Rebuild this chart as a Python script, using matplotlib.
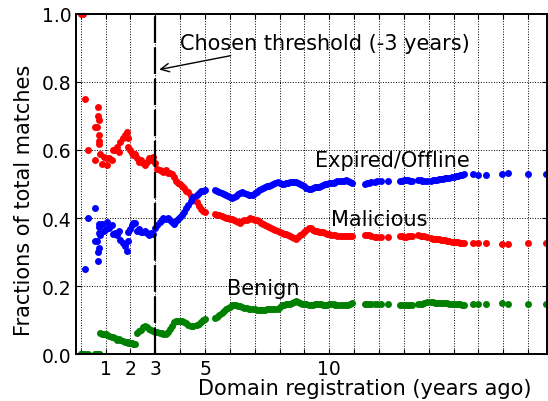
import matplotlib
matplotlib.use('Agg')
import matplotlib.pyplot as plt

# domain age in years, and fraction of matches per class
years = [0.00, 0.08, 0.17, 0.29, 0.56, 0.57, 0.66, 0.71, 0.71, 0.72, 0.73, 0.73, 0.74, 0.77, 0.84, 0.93,
         1.00, 1.07, 1.15, 1.24, 1.31, 1.38, 1.47, 1.54, 1.60, 1.69, 1.78, 1.85, 1.89, 1.91, 1.98, 2.05, 2.11, 2.17,
         2.25, 2.33, 2.41, 2.49, 2.58, 2.66, 2.75, 2.83, 2.92,
         3.00, 3.08, 3.17, 3.25, 3.33, 3.42, 3.50, 3.58, 3.67, 3.75, 3.83, 3.92, 4.00, 4.08, 4.17, 4.25, 4.33, 4.42, 4.50,
         4.67, 4.75, 4.83, 4.92, 5.00,
         5.42, 5.50, 5.58, 5.67, 5.75, 5.83, 5.92, 6.00, 6.08, 6.17, 6.25, 6.33, 6.42, 6.50, 6.58, 6.67, 6.75, 6.83, 6.92,
         7.00, 7.08, 7.17, 7.25, 7.33, 7.42, 7.50, 7.58, 7.67, 7.75, 7.83, 7.92, 8.00, 8.08, 8.17, 8.25, 8.33, 8.42,
         8.50, 8.58, 8.67, 8.75, 8.83, 8.92, 9.00, 9.08, 9.17, 9.25, 9.33, 9.42, 9.50, 9.58, 9.67, 9.75, 9.83, 9.92,
         10.00, 10.08, 10.17, 10.25, 10.33, 10.42, 10.50, 10.58, 10.67, 10.75, 10.83, 10.92,
         11.42, 11.50, 11.58, 11.67, 11.83, 11.92, 12.08, 12.38,
         12.83, 12.92, 13.00, 13.08, 13.17, 13.25, 13.33, 13.58, 13.67, 13.75, 13.83, 13.92,
         14.08, 14.17, 14.25, 14.33, 14.42, 14.50, 14.58, 14.67, 14.75, 14.83, 14.92, 15.00, 15.08, 15.17, 15.25,
         15.33, 15.42, 15.79, 16.00, 16.29, 16.94, 17.20, 17.98, 18.72]

malicious = [1.000, 1.000, 0.751, 0.600, 0.668, 0.571, 0.668, 0.727, 0.700, 0.689, 0.645, 0.626, 0.619, 0.589, 0.560, 0.580,
             0.575, 0.557, 0.577, 0.570, 0.599, 0.599, 0.609, 0.594, 0.624, 0.634, 0.645, 0.653, 0.634, 0.609, 0.599, 0.590, 0.584, 0.587,
             0.575, 0.565, 0.570, 0.562, 0.555, 0.566, 0.577, 0.572, 0.580,
             0.562, 0.545, 0.540, 0.538, 0.535, 0.540, 0.531, 0.531, 0.528, 0.520, 0.510, 0.502, 0.500, 0.495, 0.488, 0.480, 0.476, 0.466, 0.457,
             0.447, 0.435, 0.427, 0.420, 0.418,
             0.413, 0.410, 0.408, 0.405, 0.403, 0.401, 0.400, 0.398, 0.396, 0.393, 0.390, 0.388, 0.386, 0.390, 0.393, 0.395, 0.398, 0.400, 0.398,
             0.395, 0.393, 0.390, 0.386, 0.383, 0.380, 0.376, 0.373, 0.370, 0.367, 0.364, 0.362, 0.360, 0.357, 0.354, 0.352, 0.350, 0.347,
             0.344, 0.341, 0.339, 0.343, 0.349, 0.354, 0.360, 0.366, 0.371, 0.370, 0.366, 0.363, 0.363, 0.360, 0.359, 0.358, 0.356, 0.354,
             0.352, 0.350, 0.349, 0.349, 0.348, 0.347, 0.347, 0.347, 0.346, 0.347, 0.347, 0.346,
             0.351, 0.351, 0.349, 0.347, 0.345, 0.344, 0.344, 0.344,
             0.347, 0.346, 0.344, 0.345, 0.346, 0.347, 0.347, 0.349, 0.348, 0.347, 0.346, 0.344,
             0.341, 0.339, 0.338, 0.338, 0.337, 0.336, 0.335, 0.334, 0.333, 0.331, 0.330, 0.329, 0.328, 0.328, 0.327,
             0.327, 0.327, 0.327, 0.327, 0.327, 0.324, 0.324, 0.327, 0.327]

expired = [0.000, 0.000, 0.249, 0.400, 0.332, 0.429, 0.332, 0.273, 0.300, 0.311, 0.355, 0.374, 0.381, 0.349, 0.381, 0.362,
           0.367, 0.388, 0.370, 0.380, 0.352, 0.355, 0.349, 0.363, 0.334, 0.327, 0.319, 0.304, 0.332, 0.358, 0.369, 0.379, 0.386, 0.384,
           0.363, 0.368, 0.358, 0.360, 0.363, 0.356, 0.349, 0.357, 0.352,
           0.372, 0.380, 0.388, 0.395, 0.400, 0.398, 0.400, 0.393, 0.388, 0.383, 0.392, 0.398, 0.402, 0.410, 0.418, 0.430, 0.438, 0.451, 0.462,
           0.467, 0.475, 0.478, 0.480, 0.481,
           0.481, 0.478, 0.476, 0.474, 0.471, 0.468, 0.465, 0.462, 0.460, 0.462, 0.466, 0.470, 0.474, 0.476, 0.474, 0.471, 0.469, 0.467, 0.469,
           0.474, 0.476, 0.481, 0.485, 0.488, 0.490, 0.493, 0.495, 0.497, 0.500, 0.504, 0.506, 0.502, 0.500, 0.501, 0.502, 0.504, 0.505,
           0.506, 0.505, 0.506, 0.504, 0.501, 0.498, 0.494, 0.488, 0.484, 0.486, 0.489, 0.490, 0.491, 0.492, 0.494, 0.497, 0.500, 0.501,
           0.502, 0.503, 0.504, 0.506, 0.508, 0.510, 0.509, 0.510, 0.511, 0.509, 0.506, 0.504,
           0.501, 0.502, 0.503, 0.505, 0.507, 0.508, 0.508, 0.508,
           0.508, 0.510, 0.511, 0.511, 0.511, 0.510, 0.509, 0.511, 0.511, 0.510, 0.509, 0.508,
           0.510, 0.512, 0.513, 0.513, 0.514, 0.515, 0.516, 0.517, 0.518, 0.519, 0.520, 0.521, 0.523, 0.524, 0.526,
           0.527, 0.528, 0.528, 0.526, 0.526, 0.528, 0.531, 0.528, 0.528]

benign = [0.000, 0.000, 0.000, 0.000, 0.000, 0.000, 0.000, 0.000, 0.000, 0.000, 0.000, 0.000, 0.000, 0.062, 0.059, 0.058,
          0.058, 0.055, 0.053, 0.050, 0.049, 0.046, 0.042, 0.043, 0.042, 0.039, 0.036, 0.035, 0.034, 0.033, 0.032, 0.031, 0.030, 0.029,
          0.062, 0.067, 0.072, 0.078, 0.082, 0.078, 0.074, 0.071, 0.068,
          0.066, 0.065, 0.063, 0.062, 0.060, 0.058, 0.064, 0.073, 0.083, 0.095, 0.098, 0.098, 0.098, 0.096, 0.094, 0.090, 0.086, 0.083, 0.081,
          0.085, 0.088, 0.095, 0.100, 0.104,
          0.105, 0.110, 0.116, 0.121, 0.126, 0.131, 0.135, 0.139, 0.143, 0.145, 0.144, 0.142, 0.140, 0.138, 0.136, 0.134, 0.133, 0.133, 0.133,
          0.131, 0.130, 0.129, 0.129, 0.129, 0.130, 0.131, 0.132, 0.133, 0.133, 0.132, 0.132, 0.138, 0.143, 0.145, 0.146, 0.146, 0.148,
          0.150, 0.154, 0.155, 0.153, 0.150, 0.148, 0.146, 0.146, 0.145, 0.144, 0.145, 0.147, 0.146, 0.148, 0.147, 0.145, 0.144, 0.145,
          0.146, 0.147, 0.147, 0.145, 0.144, 0.143, 0.144, 0.143, 0.143, 0.144, 0.147, 0.150,
          0.148, 0.147, 0.148, 0.148, 0.148, 0.148, 0.148, 0.148,
          0.145, 0.144, 0.145, 0.144, 0.143, 0.143, 0.144, 0.146, 0.146, 0.148, 0.150, 0.152,
          0.152, 0.152, 0.151, 0.151, 0.151, 0.150, 0.150, 0.149, 0.149, 0.148, 0.148, 0.147, 0.147, 0.146, 0.146,
          0.145, 0.145, 0.148, 0.148, 0.148, 0.149, 0.148, 0.148, 0.148]

xtick_pos = list(range(0, 19))
xtick_lab = ['', '1', '2', '3', '', '5', '', '', '', '', '10', '', '', '', '', '', '', '', '']
ytick_pos = [0.0, 0.2, 0.4, 0.6, 0.8, 1.0]

plt.rcParams['font.family'] = 'DejaVu Sans'
plt.rcParams['font.size'] = 15
plt.rcParams['xtick.labelsize'] = 13.5
plt.rcParams['ytick.labelsize'] = 13.5
plt.rcParams['xtick.direction'] = 'in'
plt.rcParams['ytick.direction'] = 'in'
plt.rcParams['xtick.top'] = True
plt.rcParams['ytick.right'] = True

fig = plt.figure(figsize=(5.48, 4.02), dpi=100)
ax = fig.add_axes([0.1387, 0.1169, 0.8595, 0.8458])

ms = 5.0
ax.plot(years, malicious, 'o', color='r', mec='r', ms=ms, mew=0)
ax.plot(years, expired, 'o', color='b', mec='b', ms=ms, mew=0)
ax.plot(years, benign, 'o', color='g', mec='g', ms=ms, mew=0)

ax.axvline(3, color='k', lw=1.6, dashes=(12, 2))
ax.annotate('', xy=(3.05, 0.835), xytext=(6.14, 0.879),
            arrowprops=dict(arrowstyle='->', color='k', lw=1))
ax.text(3.99, 0.914, 'Chosen threshold (-3 years)', va='center', ha='left')
ax.text(9.43, 0.572, 'Expired/Offline', va='center', ha='left')
ax.text(10.07, 0.398, 'Malicious', va='center', ha='left')
ax.text(5.88, 0.195, 'Benign', va='center', ha='left')

ax.set_xlim(-0.19, 18.76)
ax.set_ylim(0, 1.0)
ax.set_xticks(xtick_pos)
ax.set_xticklabels(xtick_lab)
ax.set_yticks(ytick_pos)
ax.grid(True, color='k', linestyle=':', linewidth=0.7)
for s in ax.spines.values():
    s.set_linewidth(1.4)

ax.set_xlabel('Domain registration (years ago)')
ax.xaxis.set_label_coords(0.614, -0.07)
ax.set_ylabel('Fractions of total matches')
ax.yaxis.set_label_coords(-0.09, 0.456)

fig.savefig('out.png', dpi=100)
